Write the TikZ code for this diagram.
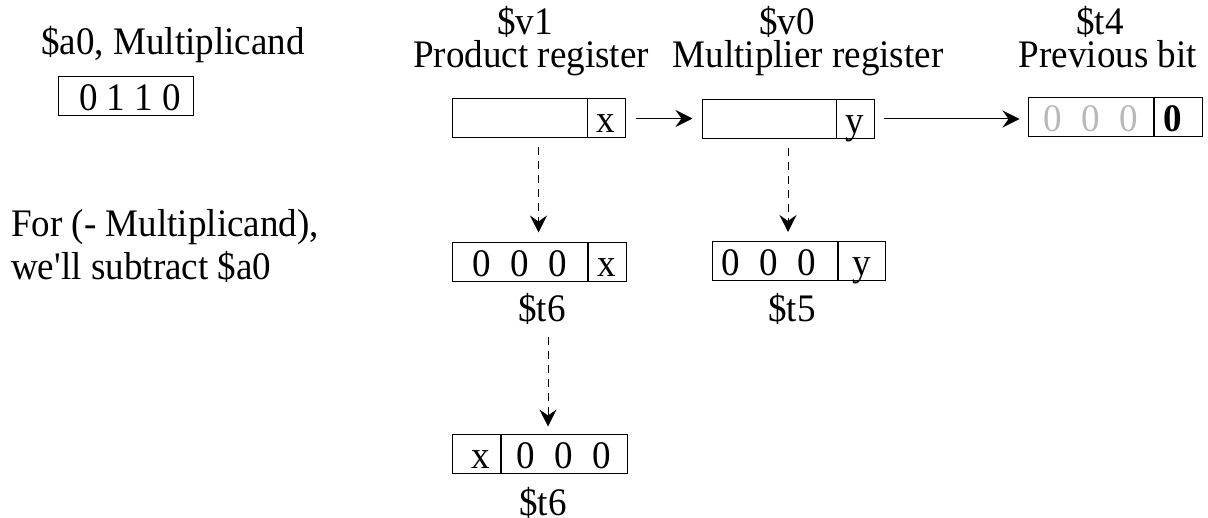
\documentclass[tikz,border=0pt]{standalone}
\usepackage{fontspec}
\setmainfont{Liberation Serif}[FakeStretch=0.95]
\usetikzlibrary{arrows.meta,positioning}
\definecolor{bitgray}{gray}{0.72}

\tikzset{
  reg/.style={draw,line width=1pt,minimum height=39pt,inner sep=0pt,text height=29pt,text depth=0pt},
  lbl/.style={inner sep=0pt,anchor=base},
  arr/.style={-{Stealth[length=17pt,width=17pt,inset=6pt]},line width=1pt},
  darr/.style={arr,dash pattern=on 8pt off 6pt},
}

\begin{document}
\begin{tikzpicture}[x=1pt,y=-1pt,font=\fontsize{39}{45}\selectfont]
  \useasboundingbox (0,0) rectangle (1208,518);

  % multiplicand
  \node[lbl] (mcandlbl) at (173,55) {\$a0, Multiplicand};
  \node[reg,minimum width=135pt] (mcand) at (125.5,96.5) {\hspace*{9pt}0 1 1 0};
  \node[lbl,anchor=base west] (note1) at (11,237) {For (- Multiplicand),};
  \node[lbl,anchor=base west] (note2) at (11,280) {we\textquotesingle ll subtract \$a0};

  % top row of registers
  \node[lbl] (v1lbl) at (525,35) {\$v1};
  \node[lbl] (prodlbl) at (531,68) {Product register};
  \node[reg,minimum width=173pt] (prod) at (538.5,118.5) {};
  \node[reg,minimum width=38pt,anchor=east] (prodx) at (prod.east) {x};

  \node[lbl] (v0lbl) at (787,35) {\$v0};
  \node[lbl] (multlbl) at (808,68) {Multiplier register};
  \node[reg,minimum width=172pt] (mult) at (788,119) {};
  \node[reg,minimum width=38pt,anchor=east] (multy) at (mult.east) {y};

  \node[lbl] (t4lbl) at (1100,35) {\$t4};
  \node[lbl] (prevlbl) at (1108,68) {Previous bit};
  \node[reg,minimum width=125pt] (prev) at (1090.5,117.5) {\color{bitgray}0\enspace0\enspace0};
  \node[reg,minimum width=48pt,right=0pt of prev] (prevbit) {\hspace*{-10pt}\textbf{0}};

  % copies
  \node[reg,minimum width=135pt] (shift) at (519.5,262.5) {0\enspace0\enspace0};
  \node[reg,minimum width=38pt,right=0pt of shift] (shiftx) {x};
  \node[lbl] (t6lbl) at (542,322) {\$t6};

  \node[reg,minimum width=125pt] (mlo) at (774.5,261) {\hspace*{-12pt}0\enspace0\enspace0};
  \node[reg,minimum width=47pt,right=0pt of mlo] (mloy) {y};
  \node[lbl] (t5lbl) at (792,322) {\$t5};

  \node[reg,minimum width=48pt] (rotx) at (476,454.5) {\hspace*{9pt}x};
  \node[reg,minimum width=126pt,right=0pt of rotx] (rot) {0\enspace0\enspace0};
  \node[lbl] (t6blbl) at (543,515) {\$t6};

  % arrows
  \draw[arr,shorten <=10pt,shorten >=9pt] (prodx.east) -- (prodx.east -| mult.west);
  \draw[arr,shorten <=9pt,shorten >=8pt] (multy.east) -- (multy.east -| prev.west);
  \draw[darr,shorten <=9pt,shorten >=10pt] (prod.south) -- (prod.south |- shift.north);
  \draw[darr,shorten <=9pt,shorten >=9pt] (mult.south) -- (mult.south |- mlo.north);
  \draw[darr,shorten <=12pt,shorten >=8pt] ([xshift=6pt]t6lbl.south) -- ([xshift=6pt]t6lbl.south |- rotx.north);
\end{tikzpicture}
\end{document}
